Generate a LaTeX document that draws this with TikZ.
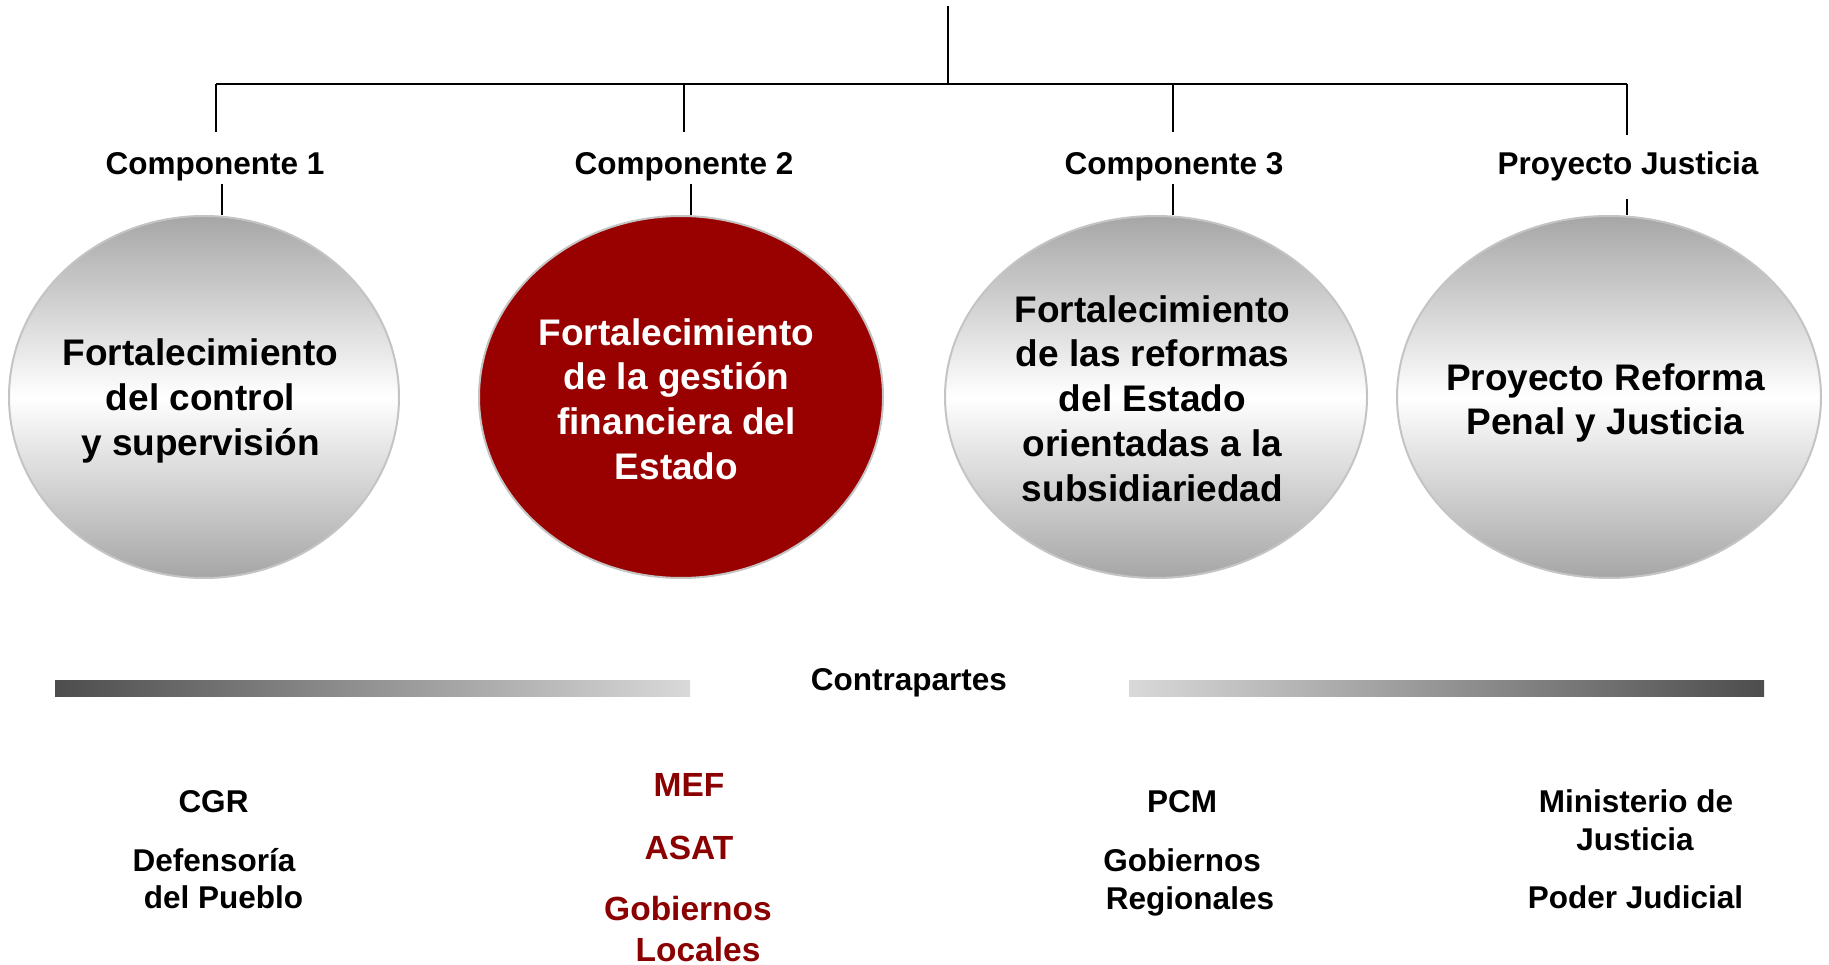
\documentclass[tikz,border=0pt]{standalone}
\usepackage{fontspec}
\setmainfont{Liberation Sans}
\usetikzlibrary{shapes.geometric}
\definecolor{darkred}{HTML}{990000}
\definecolor{txtred}{HTML}{8B0000}
\definecolor{rimgray}{HTML}{C4C4C4}
\definecolor{shadegray}{HTML}{A6A6A6}
\definecolor{bardark}{HTML}{4D4D4D}
\definecolor{barlight}{HTML}{D9D9D9}
\begin{document}
\begin{tikzpicture}[x=1pt,y=-1pt,
  oval/.style={ellipse, draw=rimgray, line width=2pt, inner sep=0pt},
  greyoval/.style={oval, top color=shadegray, bottom color=shadegray, middle color=white},
  redoval/.style={oval, fill=darkred},
  ovaltext/.style={align=center, inner sep=0pt,
    font=\fontsize{37}{44.8}\selectfont\bfseries},
  lab/.style={font=\fontsize{31.5}{37}\selectfont\bfseries, inner sep=0pt, anchor=base},
  redlab/.style={lab, font=\fontsize{33.5}{39}\selectfont\bfseries, text=txtred},
  wire/.style={line width=1.5pt, black},
  bus/.style={line width=2.2pt, black}]
\useasboundingbox (0,0) rectangle (1829,965);

% top connector tree
\coordinate (top) at (948,6);
\coordinate (mid) at (948,84);
\coordinate (b1) at (216,84);
\coordinate (b2) at (684,84);
\coordinate (b3) at (1173,84);
\coordinate (b4) at (1627,84);
\coordinate (d1) at (216,132);
\coordinate (d2) at (684,132);
\coordinate (d3) at (1173,132);
\coordinate (d4) at (1627,135);
\draw[wire] (top) -- (mid);
\draw[bus] (b1) -- (b4);
\draw[wire] (b1) -- (d1);
\draw[wire] (b2) -- (d2);
\draw[wire] (b3) -- (d3);
\draw[wire] (b4) -- (d4);

% labels
\node[lab] (l1) at (215,174.5) {Componente 1};
\node[lab] (l2) at (684,174.5) {Componente 2};
\node[lab] (l3) at (1174,174.5) {Componente 3};
\node[lab] (l4) at (1628,174.5) {Proyecto Justicia};

% ellipses
\node[greyoval, minimum width=390, minimum height=362] (e1) at (204,397) {};
\node[redoval, minimum width=404, minimum height=362] (e2) at (681,397) {};
\node[greyoval, minimum width=422, minimum height=362] (e3) at (1156,397) {};
\node[greyoval, minimum width=424, minimum height=362] (e4) at (1609,397) {};

\node[ovaltext] (t1) at (200.5,401) {Fortalecimiento\\del control\\y supervisión};
\node[ovaltext, text=white] (t2) at (676.5,399) {Fortalecimiento\\de la gestión\\financiera del\\Estado};
\node[ovaltext] (t3) at (1152.5,398.5) {Fortalecimiento\\de las reformas\\del Estado\\orientadas a la\\subsidiariedad};
\node[ovaltext] (t4) at (1605.5,403) {Proyecto Reforma\\Penal y Justicia};

% short connectors label -> ellipse
\coordinate (s1) at (222,184);
\coordinate (s2) at (691,184);
\coordinate (s3) at (1173,184);
\coordinate (s4) at (1627,199);
\draw[wire] (s1) -- (s1 |- e1.north);
\draw[wire] (s2) -- (s2 |- e2.north);
\draw[wire] (s3) -- (s3 |- e3.north);
\draw[wire] (s4) -- (s4 |- e4.north);

% Contrapartes bars
\shade[left color=bardark, right color=barlight] (55,680) rectangle (690,696);
\shade[left color=barlight, right color=bardark] (1129,680) rectangle (1764,696);
\node[lab] (contra) at (909,690.5) {Contrapartes};

% counterparts
\node[lab] (cgr) at (213.5,812.5) {CGR};
\node[lab] (defe) at (214,871) {Defensoría};
\node[lab] (pueb) at (223.4,908.5) {del Pueblo};

\node[redlab] (mef) at (689,796) {MEF};
\node[redlab] (asat) at (689,859) {ASAT};
\node[redlab] (gobl) at (688,920.5) {Gobiernos};
\node[redlab] (loca) at (698,961) {Locales};

\node[lab] (pcm) at (1182,812.5) {PCM};
\node[lab] (gobr) at (1182,871) {Gobiernos};
\node[lab] (regi) at (1190,909.5) {Regionales};

\node[lab] (mini) at (1636,812.5) {Ministerio de};
\node[lab] (just) at (1635,850) {Justicia};
\node[lab] (pode) at (1635.5,908.5) {Poder Judicial};
\end{tikzpicture}
\end{document}
